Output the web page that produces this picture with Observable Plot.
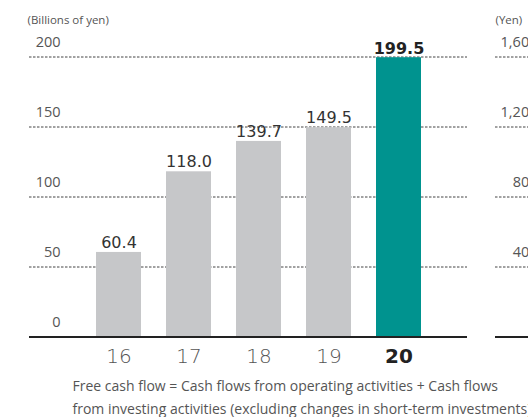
<!DOCTYPE html>
<html>
<head>
<meta charset="utf-8">
<script src="https://cdn.jsdelivr.net/npm/d3@7"></script>
<script src="https://cdn.jsdelivr.net/npm/@observablehq/plot@0.6"></script>
<style>
  html, body { margin: 0; padding: 0; background: #fff; }
  #wrap { position: relative; width: 528px; height: 417px; overflow: hidden; }
  #wrap svg { position: absolute; top: 0; left: 0; }
</style>
</head>
<body>
<div id="wrap"></div>
<script>
const years = ["16", "17", "18", "19", "20"];
const values = [60.4, 118.0, 139.7, 149.5, 199.5];
const yTicks = [0, 50, 100, 150, 200];
const yenTicks = [0, 400, 800, 1200, 1600];
const yUnit = "(Billions of yen)";
const yenUnit = "(Yen)";
const caption1 = "Free cash flow = Cash flows from operating activities + Cash flows";
const caption2 = "from investing activities (excluding changes in short-term investments)";

const data = years.map((y, i) => ({year: y, value: values[i], highlight: i === years.length - 1}));

const sans = "'Open Sans', 'Noto Sans', sans-serif";

const chart = Plot.plot({
  width: 528,
  height: 417,
  marginLeft: 29,
  marginRight: 61,
  marginTop: 56.5,
  marginBottom: 80.5,
  style: {background: "transparent", maxWidth: "none", overflow: "visible", fontFamily: sans},
  x: {domain: years, range: [82.4, 433.9], paddingInner: 0.353, paddingOuter: 0.1765, axis: null},
  y: {domain: [0, 200], range: [336.5, 56.5], axis: null},
  marks: [
    Plot.ruleY(yTicks.filter(d => d > 0), {y: d => d, stroke: "#444", strokeWidth: 1, strokeDasharray: "2.5,1.5"}),
    Plot.barY(data, {x: "year", y: "value", fill: d => d.highlight ? "#00938f" : "#c6c7c9"}),
    Plot.ruleY([0], {stroke: "#222", strokeWidth: 2}),
    Plot.text(yTicks, {y: d => d, text: d => String(d), frameAnchor: "left", dx: 31, dy: -15, textAnchor: "end", lineAnchor: "middle", fontSize: 14.5, letterSpacing: 0.4, fill: "#555", fontFamily: sans}),
    Plot.text(data.filter(d => !d.highlight), {x: "year", y: "value", text: d => d.value.toFixed(1), lineAnchor: "bottom", dy: -4.5, fontSize: 16, fill: "#333", fontFamily: "'DejaVu Sans', sans-serif"}),
    Plot.text(data.filter(d => d.highlight), {x: "year", y: "value", text: d => d.value.toFixed(1), lineAnchor: "bottom", dy: -4, fontSize: 16, fontWeight: "bold", fill: "#222", fontFamily: "'DejaVu Sans', sans-serif"}),
    Plot.text(data.filter(d => !d.highlight), {x: "year", text: "year", frameAnchor: "bottom", lineAnchor: "bottom", dy: 25.5, fontSize: 20, fill: "#555", fontWeight: 300, letterSpacing: 1.5, fontFamily: "'DejaVu Sans', sans-serif"}),
    Plot.text(data.filter(d => d.highlight), {x: "year", text: "year", frameAnchor: "bottom", lineAnchor: "bottom", dy: 25.5, fontSize: 20, fill: "#222", fontWeight: "bold", fontFamily: "'DejaVu Sans', sans-serif"}),
    Plot.text([yUnit], {frameAnchor: "top-left", dx: -2, dy: -33.5, lineAnchor: "bottom", textAnchor: "start", fontSize: 11.5, fill: "#555", fontFamily: sans}),
    Plot.text([caption1], {frameAnchor: "bottom-left", dx: 43, dy: 53.5, lineAnchor: "bottom", textAnchor: "start", fontSize: 14, fill: "#555", fontFamily: sans}),
    Plot.text([caption2], {frameAnchor: "bottom-left", dx: 43, dy: 76.5, lineAnchor: "bottom", textAnchor: "start", fontSize: 14, fill: "#555", fontFamily: sans})
  ]
});

const chart2 = Plot.plot({
  width: 800,
  height: 417,
  marginLeft: 495,
  marginRight: 10,
  marginTop: 56.5,
  marginBottom: 80.5,
  style: {background: "transparent", maxWidth: "none", overflow: "visible", fontFamily: sans},
  y: {domain: [0, 1600], range: [336.5, 56.5], axis: null},
  marks: [
    Plot.ruleY(yenTicks.filter(d => d > 0), {y: d => d, stroke: "#444", strokeWidth: 1, strokeDasharray: "2.5,1.5"}),
    Plot.ruleY([0], {stroke: "#222", strokeWidth: 2}),
    Plot.text(yenTicks.filter(d => d > 0), {y: d => d, text: d => d3.format(",")(d), frameAnchor: "left", dx: 42, dy: -15, textAnchor: "end", lineAnchor: "middle", fontSize: 14.5, letterSpacing: 0.4, fill: "#555", fontFamily: sans}),
    Plot.text([yenUnit], {frameAnchor: "top-left", dx: 0, dy: -33.5, lineAnchor: "bottom", textAnchor: "start", fontSize: 11.5, fill: "#555", fontFamily: sans})
  ]
});

const wrap = document.getElementById("wrap");
wrap.appendChild(chart);
wrap.appendChild(chart2);
</script>
</body>
</html>
